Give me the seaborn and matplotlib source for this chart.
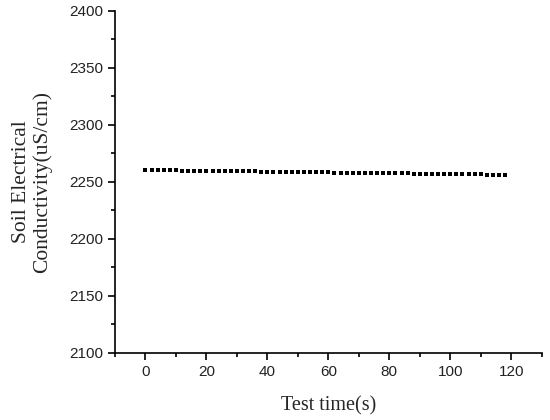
import numpy as np
import pandas as pd
import matplotlib
matplotlib.use("Agg")
import matplotlib.pyplot as plt
import seaborn as sns
from matplotlib.ticker import MultipleLocator

# test time (s), sampled every 2 s
test_time = [0, 2, 4, 6, 8, 10, 12, 14, 16, 18,
             20, 22, 24, 26, 28, 30, 32, 34, 36, 38,
             40, 42, 44, 46, 48, 50, 52, 54, 56, 58,
             60, 62, 64, 66, 68, 70, 72, 74, 76, 78,
             80, 82, 84, 86, 88, 90, 92, 94, 96, 98,
             100, 102, 104, 106, 108, 110, 112, 114, 116, 118]

# soil electrical conductivity (uS/cm)
conductivity = [2260.5, 2260.3, 2260.2, 2260.1, 2260.0, 2260.0, 2259.9, 2259.8, 2259.8, 2259.7,
                2259.6, 2259.6, 2259.5, 2259.4, 2259.4, 2259.3, 2259.2, 2259.2, 2259.1, 2259.0,
                2259.0, 2258.9, 2258.8, 2258.8, 2258.7, 2258.6, 2258.6, 2258.5, 2258.4, 2258.4,
                2258.3, 2258.2, 2258.2, 2258.1, 2258.0, 2258.0, 2257.9, 2257.8, 2257.7, 2257.7,
                2257.6, 2257.5, 2257.5, 2257.4, 2257.3, 2257.2, 2257.2, 2257.1, 2257.0, 2256.9,
                2256.9, 2256.8, 2256.7, 2256.6, 2256.6, 2256.5, 2256.4, 2256.2, 2256.1, 2256.0]

df = pd.DataFrame({"time": test_time, "ec": conductivity})

sns.set_style("ticks")
plt.rcParams["font.family"] = ["Liberation Sans", "DejaVu Sans"]

fig = plt.figure(figsize=(5.5, 4.2), dpi=100)
ax = fig.add_axes([0.209, 0.16, 0.776, 0.814])

sns.scatterplot(data=df, x="time", y="ec", ax=ax, marker="s", s=11,
                color="black", edgecolor="black", linewidth=0, legend=False)

ax.set_xlim(-10, 130)
ax.set_ylim(2100, 2400)
ax.xaxis.set_major_locator(MultipleLocator(20))
ax.xaxis.set_minor_locator(MultipleLocator(10))
ax.yaxis.set_major_locator(MultipleLocator(50))
ax.yaxis.set_minor_locator(MultipleLocator(25))
ax.tick_params(which="major", length=5, width=1.2, labelsize=11, color="black",
               labelcolor="#222222")
ax.tick_params(which="minor", length=3, width=1.2, color="black")
ax.spines["top"].set_visible(False)
ax.spines["right"].set_visible(False)
for s in ["left", "bottom"]:
    ax.spines[s].set_linewidth(1.2)
    ax.spines[s].set_color("black")

ax.set_xlabel("Test time(s)", family=["Liberation Serif"], fontsize=14.5, labelpad=13)
ax.set_ylabel("Soil Electrical\nConductivity(uS/cm)", family=["Liberation Serif"],
              fontsize=15.5, labelpad=12, linespacing=1.1)

fig.savefig("out.png", dpi=100)
